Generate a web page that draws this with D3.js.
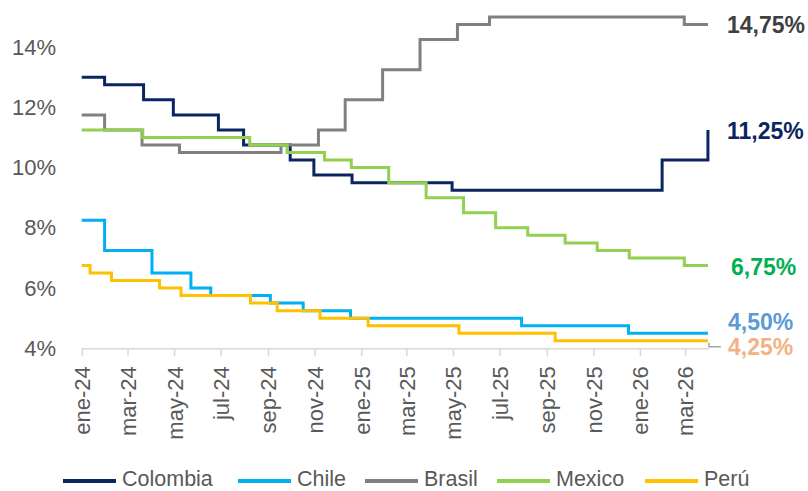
<!DOCTYPE html>
<html>
<head>
<meta charset="utf-8">
<script src="https://cdn.jsdelivr.net/npm/d3@7"></script>
<style>
  html, body { margin: 0; padding: 0; background: #ffffff; }
  svg { display: block; font-family: "Liberation Sans", Arial, sans-serif; }
</style>
</head>
<body>
<svg id="chart" width="808" height="491"></svg>
<script>
// ---------- DATA ----------
const seriesNames = ["Colombia", "Chile", "Brasil", "Mexico", "Perú"];
const seriesColors = ["#0B2560", "#00B0F0", "#808080", "#92D050", "#FFC000"];

const colombia = [
  ["2024-01-01", 13.00], ["2024-01-31", 12.75], ["2024-03-22", 12.25], ["2024-04-30", 11.75],
  ["2024-06-28", 11.25], ["2024-07-31", 10.75], ["2024-09-30", 10.25], ["2024-10-31", 9.75],
  ["2024-12-20", 9.50], ["2025-04-30", 9.25], ["2026-01-30", 10.25], ["2026-03-31", 11.25]
];
const chile = [
  ["2024-01-01", 8.25], ["2024-01-31", 7.25], ["2024-04-02", 6.50], ["2024-05-23", 6.00],
  ["2024-06-18", 5.75], ["2024-09-04", 5.50], ["2024-10-17", 5.25], ["2024-12-18", 5.00],
  ["2025-07-30", 4.75], ["2025-12-17", 4.50], ["2026-03-31", 4.50]
];
const brasil = [
  ["2024-01-01", 11.75], ["2024-01-31", 11.25], ["2024-03-20", 10.75], ["2024-05-08", 10.50],
  ["2024-09-18", 10.75], ["2024-11-06", 11.25], ["2024-12-11", 12.25], ["2025-01-29", 13.25],
  ["2025-03-19", 14.25], ["2025-05-07", 14.75], ["2025-06-18", 15.00], ["2026-02-28", 14.75],
  ["2026-03-31", 14.75]
];
const mexico = [
  ["2024-01-01", 11.25], ["2024-03-21", 11.00], ["2024-08-08", 10.75], ["2024-09-26", 10.50],
  ["2024-11-14", 10.25], ["2024-12-19", 10.00], ["2025-02-06", 9.50], ["2025-03-27", 9.00],
  ["2025-05-15", 8.50], ["2025-06-26", 8.00], ["2025-08-07", 7.75], ["2025-09-25", 7.50],
  ["2025-11-06", 7.25], ["2025-12-18", 7.00], ["2026-02-28", 6.75], ["2026-03-31", 6.75]
];
const peru = [
  ["2024-01-01", 6.75], ["2024-01-12", 6.50], ["2024-02-09", 6.25], ["2024-04-12", 6.00],
  ["2024-05-10", 5.75], ["2024-08-09", 5.50], ["2024-09-13", 5.25], ["2024-11-08", 5.00],
  ["2025-01-10", 4.75], ["2025-05-09", 4.50], ["2025-09-12", 4.25], ["2026-03-31", 4.25]
];
const seriesData = [colombia, chile, brasil, mexico, peru];

const yTicks = [4, 6, 8, 10, 12, 14];
const yTickLabels = ["4%", "6%", "8%", "10%", "12%", "14%"];
const xTickDates = ["2024-01-01", "2024-03-01", "2024-05-01", "2024-07-01", "2024-09-01", "2024-11-01",
  "2025-01-01", "2025-03-01", "2025-05-01", "2025-07-01", "2025-09-01", "2025-11-01",
  "2026-01-01", "2026-03-01"];
const xTickLabels = ["ene-24", "mar-24", "may-24", "jul-24", "sep-24", "nov-24",
  "ene-25", "mar-25", "may-25", "jul-25", "sep-25", "nov-25", "ene-26", "mar-26"];

const endLabels = ["14,75%", "11,25%", "6,75%", "4,50%", "4,25%"];
const endLabelColors = ["#404040", "#0B2560", "#00B050", "#5B9BD5", "#F4B183"];

// ---------- CHART ----------
const parse = d3.utcParse("%Y-%m-%d");
const svg = d3.select("#chart");
svg.append("rect").attr("width", 808).attr("height", 491).attr("fill", "#fff");

const x = d3.scaleUtc()
  .domain([parse("2024-01-01"), parse("2026-04-01")])
  .range([81.7, 708.7]);
const y = d3.scaleLinear().domain([4, 15]).range([348.3, 17]);

// Y axis labels
const yAxis = d3.axisLeft(y)
  .tickValues(yTicks)
  .tickSize(0)
  .tickPadding(0)
  .tickFormat((d, i) => yTickLabels[i]);
const gy = svg.append("g").attr("transform", "translate(56,0)").call(yAxis);
gy.select(".domain").remove();
gy.selectAll("text")
  .attr("fill", "#595959")
  .style("font-size", "22px")
  .style("font-family", "'Liberation Sans', Arial, sans-serif");

// X axis
const xAxis = d3.axisBottom(x)
  .tickValues(xTickDates.map(parse))
  .tickSizeInner(8)
  .tickSizeOuter(0)
  .tickFormat((d, i) => xTickLabels[i]);
const gx = svg.append("g").attr("transform", "translate(0,348.3)").call(xAxis);
gx.select(".domain").attr("stroke", "#D9D9D9").attr("stroke-width", 1.5);
gx.selectAll(".tick line").attr("stroke", "#D9D9D9").attr("stroke-width", 1.5);
gx.selectAll(".tick text")
  .attr("fill", "#595959")
  .style("font-size", "22px")
  .style("font-family", "'Liberation Sans', Arial, sans-serif")
  .attr("text-anchor", "end")
  .attr("transform", "rotate(-90)")
  .attr("x", -18)
  .attr("y", 0)
  .attr("dy", "0.36em")
  .attr("dx", 0);

// Lines
const line = d3.line()
  .x(d => x(parse(d[0])))
  .y(d => y(d[1]))
  .curve(d3.curveStepAfter);

seriesData.forEach((data, i) => {
  svg.append("path")
    .datum(data)
    .attr("fill", "none")
    .attr("stroke", seriesColors[i])
    .attr("stroke-width", 3)
    .attr("stroke-linejoin", "miter")
    .attr("d", line);
});

// Leader line for Perú label
const lastPeru = peru[peru.length - 1];
const lx = x(parse(lastPeru[0]));
const ly = y(lastPeru[1]);
svg.append("path")
  .attr("d", `M${lx + 1},${ly + 2} L${lx + 1},${ly + 6} L${lx + 13},${ly + 6}`)
  .attr("fill", "none")
  .attr("stroke", "#A6A6A6")
  .attr("stroke-width", 1.5);

// End labels
const endLabelX = [727, 727, 731, 728, 728];
const endLabelY = [25, 131, 267, 322, 347];
endLabels.forEach((t, i) => {
  svg.append("text")
    .attr("x", endLabelX[i])
    .attr("y", endLabelY[i])
    .attr("dy", "0.36em")
    .attr("fill", endLabelColors[i])
    .style("font-size", "23px")
    .style("font-weight", "bold")
    .text(t);
});

// Legend
const legendX = [63, 238, 365, 497, 645];
const legend = svg.append("g");
seriesNames.forEach((name, i) => {
  const g = legend.append("g").attr("transform", `translate(${legendX[i]},481)`);
  g.append("line")
    .attr("x1", 0).attr("x2", 53)
    .attr("y1", 0).attr("y2", 0)
    .attr("stroke", seriesColors[i])
    .attr("stroke-width", 4);
  g.append("text")
    .attr("x", 59)
    .attr("y", 5)
    .attr("fill", "#595959")
    .style("font-size", "21.5px")
    .text(name);
});
</script>
</body>
</html>
